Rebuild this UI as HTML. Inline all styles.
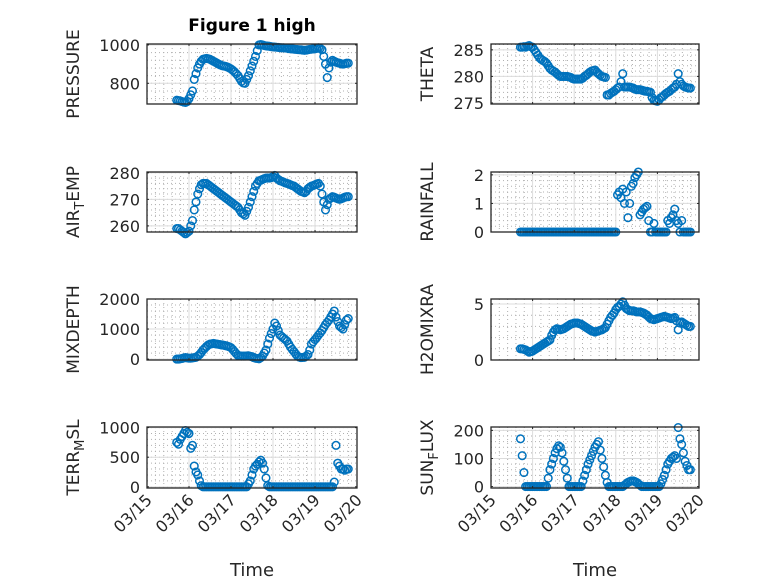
<!DOCTYPE html>
<html><head><meta charset="utf-8"><style>
html,body{margin:0;padding:0;background:#fff;}
svg{display:block;font-family:"DejaVu Sans","Liberation Sans",sans-serif;}
</style></head><body>
<svg id="fig" width="778" height="583" viewBox="0 0 778 583" xmlns="http://www.w3.org/2000/svg">
<rect width="778" height="583" fill="#fff"/>
<text x="252" y="31" font-size="17" font-weight="bold" text-anchor="middle" fill="#000">Figure 1 high</text>
</svg>
<script>
const times = [17,18,19,20,21,22,23,24,25,26,27,28,29,30,31,32,33,34,35,36,37,38,39,40,41,42,43,44,45,46,47,48,49,50,51,52,53,54,55,56,57,58,59,60,61,62,63,64,65,66,67,68,69,70,71,72,73,74,75,76,77,78,79,80,81,82,83,84,85,86,87,88,89,90,91,92,93,94,95,96,97,98,99,100,101,102,103,104,105,106,107,108,109,110,111,112,113,114,115];
const xTickLabels = ["03/15","03/16","03/17","03/18","03/19","03/20"];
const pressure = [712,710,708,705,702,700,705,720,740,760,820,850,880,900,915,925,928,930,928,925,920,915,910,905,900,895,892,890,888,885,880,875,868,860,850,840,825,810,802,800,820,840,865,890,915,940,970,1000,1002,1000,997,995,994,993,991,990,989,988,987,986,985,985,984,983,981,980,979,978,977,976,975,975,973,972,973,975,977,978,979,980,982,985,982,975,940,900,830,880,910,920,915,910,907,905,902,900,902,905,905];
const theta = [285.5,285.5,285.6,285.5,285.7,285.8,285.6,285.5,285,284.5,284,283.5,283.2,283,282.8,282.5,282,281.5,281.2,281,280.8,280.5,280.2,280,280,280,280,280,279.9,279.8,279.6,279.5,279.5,279.5,279.5,279.5,279.7,280,280.2,280.5,280.8,281,281.1,281.2,280.8,280.5,280.2,280,279.9,279.8,276.5,276.5,276.8,277,277.2,277.5,277.8,278,279,280.5,278,278,278,278,277.9,277.8,277.6,277.5,277.5,277.5,277.4,277.3,277.2,277.2,277.1,277,276,275.5,275.4,275.3,275.6,276,276.2,276.5,276.8,277,277.2,277.5,277.8,278,278.5,280.5,279,278.5,278.2,278,277.9,277.8,277.8];
const airTemp = [259,259,258.5,258,257.5,257,257.5,258,260,262,266,269,272,274,275.5,276,276,276,275.5,275,274.5,274,273.5,273,272.5,272,271.5,271,270.5,270,269.5,269,268.5,268,267.5,267,266,265,264.5,264,265.5,267,269,271,273,275,276,277,277.2,277.5,277.8,278,278,278,278.2,278.5,279,278,277.5,277,276.8,276.5,276.2,276,275.8,275.5,275.2,275,274.5,274,273.5,273,272.8,272.5,273,274,274.5,275,275.2,275.5,275.8,276,275,272,269,266,268,270,270.5,271,270.8,270.5,270.2,270,270.2,270.5,270.8,271,271];
const rainfall = [0,0,0,0,0,0,0,0,0,0,0,0,0,0,0,0,0,0,0,0,0,0,0,0,0,0,0,0,0,0,0,0,0,0,0,0,0,0,0,0,0,0,0,0,0,0,0,0,0,0,0,0,0,0,0,0,1.3,1.4,1.2,1.5,1.0,1.4,0.5,1.0,1.6,1.7,1.9,2.0,2.1,0.6,0.7,0.8,0.85,0.9,0.4,0,0,0.3,0,0,0,0,0,0,0,0.4,0.3,0.5,0.6,0.8,0.4,0.3,0,0.4,0,0,0,0,0];
const mixDepth = [0,0,10,20,40,50,40,30,30,40,50,60,100,150,220,300,360,420,470,500,510,520,510,500,490,480,470,460,445,430,410,380,320,250,180,120,110,100,100,100,105,110,95,80,50,30,20,10,50,100,200,300,500,700,850,1000,1200,1100,950,800,750,700,650,600,500,400,320,250,170,100,70,50,55,60,100,150,300,500,580,650,720,800,870,950,1050,1150,1220,1300,1400,1500,1600,1400,1250,1100,1050,1000,1150,1300,1350];
const h2o = [1.0,1.0,0.95,0.9,0.8,0.7,0.75,0.8,0.9,1.0,1.1,1.2,1.3,1.4,1.5,1.6,1.7,1.8,2.2,2.5,2.7,2.8,2.75,2.7,2.75,2.8,2.9,3.0,3.1,3.2,3.25,3.3,3.3,3.3,3.25,3.2,3.1,3.0,2.9,2.8,2.7,2.6,2.55,2.5,2.55,2.6,2.65,2.7,2.8,2.9,3.2,3.5,3.8,4.0,4.2,4.5,4.7,4.8,5.0,5.2,4.9,4.6,4.5,4.4,4.4,4.4,4.35,4.3,4.3,4.3,4.25,4.2,4.1,4.0,3.85,3.7,3.65,3.6,3.65,3.7,3.75,3.8,3.85,3.9,3.85,3.8,3.75,3.7,3.75,3.8,3.5,2.7,3.3,3.4,3.3,3.2,3.1,3.0,3.0];
const terr = [750,720,800,850,900,950,920,900,650,700,350,250,200,100,20,0,0,0,0,0,0,0,0,0,0,0,0,0,0,0,0,0,0,0,0,0,0,0,0,0,0,50,100,200,300,350,380,420,450,400,300,150,20,0,0,0,0,0,0,0,0,0,0,0,0,0,0,0,0,0,0,0,0,0,0,0,0,0,0,0,0,0,0,0,0,0,0,0,0,0,80,700,400,350,300,300,280,300,300];
const sun = [170,110,50,0,0,0,0,0,0,0,0,0,0,0,0,0,30,60,80,100,120,135,145,140,120,90,60,30,0,0,0,0,0,0,0,0,20,40,60,80,95,110,125,140,150,160,130,100,70,40,15,0,0,0,0,0,0,0,0,0,5,10,15,18,20,20,18,15,10,5,0,0,0,0,0,0,0,0,0,0,0,10,25,40,60,80,90,100,105,110,100,210,170,150,120,90,75,60,60];
const pressureTicks = [800,1000];
const thetaTicks = [275,280,285];
const airTicks = [260,270,280];
const rainTicks = [0,1,2];
const mixTicks = [0,1000,2000];
const h2oTicks = [0,5];
const terrTicks = [0,500,1000];
const sunTicks = [0,100,200];

const NS = "http://www.w3.org/2000/svg";
const svg = document.getElementById('fig');
function mk(tag, attrs, parent){const e=document.createElementNS(NS,tag);for(const k in attrs)e.setAttribute(k,attrs[k]);(parent||svg).appendChild(e);return e;}

const panels = [
 {name:'pressure',label:['PRESSURE'],vals:pressure,ticks:pressureTicks,ylim:[692,1005],x0:147,x1:357,y0:44,y1:104,left:true},
 {name:'theta',label:['THETA'],vals:theta,ticks:thetaTicks,ylim:[274.8,286.1],x0:491,x1:699,y0:44,y1:104},
 {name:'air-temp',label:['AIR','T','EMP'],vals:airTemp,ticks:airTicks,ylim:[257.7,280.3],x0:147,x1:357,y0:172,y1:232,left:true},
 {name:'rainfall',label:['RAINFALL'],vals:rainfall,ticks:rainTicks,ylim:[0,2.1],x0:491,x1:699,y0:172,y1:232},
 {name:'mixdepth',label:['MIXDEPTH'],vals:mixDepth,ticks:mixTicks,ylim:[-30,2000],x0:147,x1:357,y0:299,y1:360,left:true},
 {name:'h2omixra',label:['H2OMIXRA'],vals:h2o,ticks:h2oTicks,ylim:[0,5.45],x0:491,x1:699,y0:299,y1:360},
 {name:'terr-msl',label:['TERR','M','SL'],vals:terr,ticks:terrTicks,ylim:[-20,1010],x0:147,x1:357,y0:427,y1:488,left:true,bottom:true},
 {name:'sun-flux',label:['SUN','F','LUX'],vals:sun,ticks:sunTicks,ylim:[-5,212],x0:491,x1:699,y0:427,y1:488,bottom:true}
];

panels.forEach(p=>{
  const g = mk('g',{});
  
  
  const xs = t => p.x0 + (t/120)*(p.x1-p.x0);
  const ys = v => p.y1 - (v-p.ylim[0])/(p.ylim[1]-p.ylim[0])*(p.y1-p.y0);
  mk('rect',{x:p.x0,y:p.y0,width:p.x1-p.x0,height:p.y1-p.y0,fill:'#fff'},g);
  for(let d=0; d<5; d++){
    for(let m=1;m<5;m++){
      const x = xs(d*24 + m*24/5);
      mk('line',{x1:x,x2:x,y1:p.y0,y2:p.y1,stroke:'#b0b0b0','stroke-width':1,'stroke-dasharray':'1 3'},g);
    }
  }
  const tk = p.ticks; const step = tk.length>1 ? tk[1]-tk[0] : 1;
  for(let v = tk[0]-step; v <= p.ylim[1]+step; v += step/5){
    const vv = Math.round(v*1000)/1000;
    if(vv<p.ylim[0]||vv>p.ylim[1]) continue;
    const y = ys(vv);
    mk('line',{x1:p.x0,x2:p.x1,y1:y,y2:y,stroke:'#b0b0b0','stroke-width':1,'stroke-dasharray':'1 3'},g);
  }
  for(let d=1; d<5; d++){
    const x = xs(d*24);
    mk('line',{x1:x,x2:x,y1:p.y0,y2:p.y1,stroke:'#dcdcdc','stroke-width':1},g);
  }
  tk.forEach(v=>{
    const y = ys(v);
    mk('line',{x1:p.x0,x2:p.x1,y1:y,y2:y,stroke:'#dcdcdc','stroke-width':1},g);
    const tl = mk('text',{x:p.x0-7,y:y+6,'font-size':16,'text-anchor':'end',fill:'#262626'},g);
    
    
    tl.textContent = v;
    mk('line',{x1:p.x0,x2:p.x0+2,y1:y,y2:y,stroke:'#262626'},g);
    mk('line',{x1:p.x1,x2:p.x1-2,y1:y,y2:y,stroke:'#262626'},g);
  });
  p.vals.forEach((v,i)=>{
    if(times[i]===undefined) return;
    const c = mk('circle',{cx:xs(times[i]),cy:ys(v),r:3.8,fill:'none',stroke:'#0072BD','stroke-width':1.5},g);
    
    
  });
  mk('rect',{x:p.x0,y:p.y0,width:p.x1-p.x0,height:p.y1-p.y0,fill:'none',stroke:'#262626','stroke-width':1.3},g);
  for(let d=0; d<=5; d++){
    const x = xs(d*24);
    mk('line',{x1:x,x2:x,y1:p.y1,y2:p.y1-2,stroke:'#262626'},g);
    mk('line',{x1:x,x2:x,y1:p.y0,y2:p.y0+2,stroke:'#262626'},g);
    if(p.bottom){
      const t = mk('text',{x:0,y:0,'font-size':16,'text-anchor':'end',fill:'#262626',transform:`translate(${x+6},${p.y1+13}) rotate(-45)`},g);
      
      
      t.textContent = xTickLabels[d];
    }
  }
  if(p.bottom){
    const t = mk('text',{x:(p.x0+p.x1)/2,y:576,'font-size':18,'text-anchor':'middle',fill:'#262626'},g);
    
    
    t.textContent = 'Time';
  }
  const lx = p.left ? 79 : 433;
  const yl = mk('text',{x:0,y:0,'font-size':17,'text-anchor':'middle',fill:'#262626',transform:`translate(${lx},${(p.y0+p.y1)/2}) rotate(-90)`},g);
  
  
  if(p.label.length===1){ yl.textContent = p.label[0]; }
  else {
    const a = mk('tspan',{},yl); a.textContent = p.label[0];
    const b = mk('tspan',{dy:5,'font-size':13},yl); b.textContent = p.label[1];
    const c = mk('tspan',{dy:-5},yl); c.textContent = p.label[2];
  }
});
</script>
</body></html>
